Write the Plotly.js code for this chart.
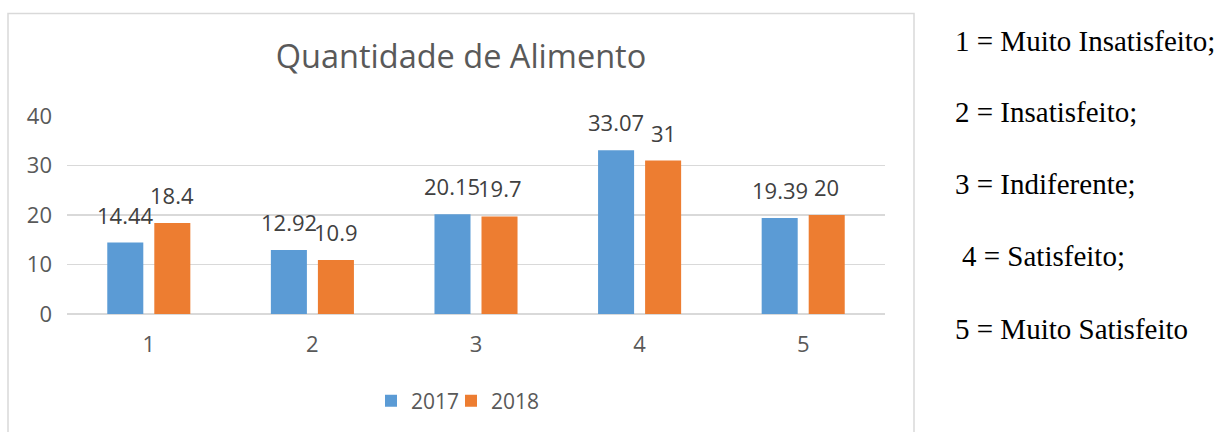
<!DOCTYPE html>
<html>
<head>
<meta charset="utf-8">
<script src="https://cdn.plot.ly/plotly-3.0.1.min.js"></script>
<style>
  html, body { margin: 0; padding: 0; background: #fff; }
  #chart { width: 1219px; height: 432px; }
</style>
</head>
<body>
<div id="chart"></div>
<script>
// ---- data ----
const categories = ['1', '2', '3', '4', '5'];
const values2017 = [14.44, 12.92, 20.15, 33.07, 19.39];
const values2018 = [18.4, 10.9, 19.7, 31, 20];
const seriesNames = ['2017', '2018'];
const chartTitle = 'Quantidade de Alimento';
const yTickVals = [0, 10, 20, 30, 40];
const scaleNotes = [
  '1 = Muito Insatisfeito;',
  '2 = Insatisfeito;',
  '3 = Indiferente;',
  '4 = Satisfeito;',
  '5 = Muito Satisfeito'
];

// ---- styling / layout ----
const blue = '#5b9bd5';
const orange = '#ed7d31';
const grey = '#595959';
const font = 'Open Sans, sans-serif';

// plot area in pixels: x 67..885, y 116..315
const L = 67, R = 885, T = 116, B = 315, W = 1219, H = 432;
const px2x = p => (p - L) / (R - L);
const px2y = p => (B - p) / (B - T);

const traces = [
  { type: 'bar', name: seriesNames[0], x: categories, y: values2017,
    marker: { color: blue }, hoverinfo: 'none', legend: 'legend' },
  { type: 'bar', name: seriesNames[1], x: categories, y: values2018,
    marker: { color: orange }, hoverinfo: 'none', legend: 'legend2' }
];

// data labels placed through the axis scales, offset per series in the group
const annotations = [];
const groupOffset = 0.1437; // half slot width in category units
[values2017, values2018].forEach((vals, si) => {
  vals.forEach((v, i) => {
    annotations.push({
      x: i + (si === 0 ? -groupOffset : groupOffset), xref: 'x',
      y: v, yref: 'y',
      text: String(v), showarrow: false,
      yanchor: 'bottom', xanchor: 'center', yshift: 11,
      font: { family: font, size: 22, color: '#404040' }
    });
  });
});

// right-hand scale notes
const noteY = [41, 112, 184, 257, 330];
const noteX = [953, 953, 953, 960, 953];
scaleNotes.forEach((t, i) => {
  annotations.push({
    xref: 'paper', yref: 'paper',
    x: px2x(noteX[i]), y: px2y(noteY[i]),
    xanchor: 'left', yanchor: 'middle',
    text: t, showarrow: false,
    font: { family: 'Liberation Serif, Times New Roman, serif', size: 29, color: '#000' }
  });
});

const legendBase = {
  orientation: 'h', xref: 'paper', yref: 'paper',
  y: px2y(401), xanchor: 'left', yanchor: 'middle',
  font: { family: font, size: 21, color: grey },
  bgcolor: 'rgba(0,0,0,0)', borderwidth: 0,
  itemclick: false, itemdoubleclick: false
};

const layout = {
  width: W, height: H,
  margin: { l: L, r: W - R, t: T, b: H - B, pad: 0 },
  paper_bgcolor: '#fff', plot_bgcolor: '#fff',
  showlegend: true,
  title: {
    text: chartTitle, xref: 'container', yref: 'container',
    x: 461 / W, y: 1 - 57 / H, xanchor: 'center', yanchor: 'middle',
    font: { family: font, size: 32.5, color: grey }
  },
  barmode: 'group', bargap: 0.425, bargroupgap: 0.234,
  xaxis: {
    type: 'category', showgrid: false, zeroline: false, showline: false,
    ticks: '', ticklabelstandoff: 15,
    tickfont: { family: font, size: 22, color: grey },
    fixedrange: true
  },
  yaxis: {
    range: [0, 40], tickvals: yTickVals, showgrid: true,
    gridcolor: '#d9d9d9', gridwidth: 1.5, zeroline: true, zerolinecolor: '#d9d9d9', zerolinewidth: 1.5,
    showline: false, ticks: '', ticklabelstandoff: 14,
    tickfont: { family: font, size: 22, color: grey },
    fixedrange: true
  },
  legend: Object.assign({}, legendBase, { x: px2x(371) }),
  legend2: Object.assign({}, legendBase, { x: px2x(451) }),
  shapes: [{
    type: 'rect', xref: 'paper', yref: 'paper',
    x0: px2x(8), x1: px2x(914), y0: px2y(445), y1: px2y(13),
    line: { color: '#d9d9d9', width: 1.5 }, fillcolor: 'rgba(0,0,0,0)', layer: 'below'
  }],
  annotations: annotations
};

Plotly.newPlot('chart', traces, layout, { staticPlot: true, displayModeBar: false });
</script>
</body>
</html>
